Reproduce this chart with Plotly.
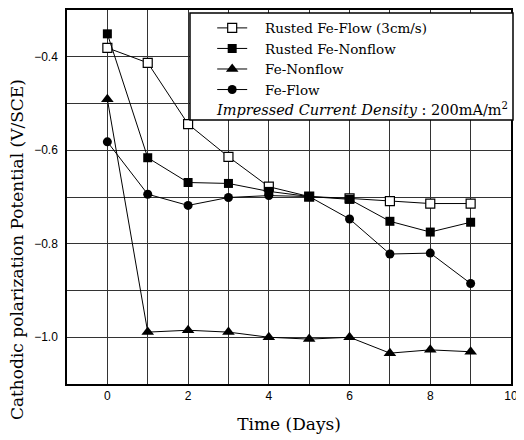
import plotly.graph_objects as go

days = [0, 1, 2, 3, 4, 5, 6, 7, 8, 9]
rusted_flow = [-0.381, -0.413, -0.544, -0.614, -0.678, -0.699, -0.703, -0.709, -0.714, -0.714]
rusted_nonflow = [-0.351, -0.616, -0.669, -0.671, -0.688, -0.699, -0.705, -0.752, -0.775, -0.754]
fe_nonflow = [-0.491, -0.989, -0.985, -0.989, -1.000, -1.004, -1.000, -1.034, -1.027, -1.031]
fe_flow = [-0.582, -0.694, -0.718, -0.701, -0.697, -0.699, -0.747, -0.822, -0.820, -0.885]

names = ["Rusted Fe-Flow (3cm/s)", "Rusted Fe-Nonflow", "Fe-Nonflow", "Fe-Flow"]
series = [rusted_flow, rusted_nonflow, fe_nonflow, fe_flow]
symbols = ["square-open", "square", "triangle-up", "circle"]
sizes = [9, 9, 11, 9]

serif = "DejaVu Serif"
sans = "Liberation Sans"

fig = go.Figure()
for name, vals, sym, sz in zip(names, series, symbols, sizes):
    marker = dict(symbol=sym, size=sz, color="black")
    if sym == "square-open":
        marker = dict(symbol="square", size=sz, color="white", line=dict(color="black", width=1.2))
    fig.add_trace(go.Scatter(
        x=days, y=vals, mode="lines+markers", name="\u00a0\u00a0\u00a0" + name,
        line=dict(color="black", width=1), marker=marker))

axis_common = dict(
    showline=True, linecolor="black", linewidth=1.5, mirror=True,
    showgrid=True, gridcolor="#333333", gridwidth=1,
    zeroline=False, ticks="", tickfont=dict(family=sans, size=12, color="black"),
)

fig.update_xaxes(range=[-1, 10], tick0=0, dtick=2,
                 minor=dict(dtick=1, showgrid=True, gridcolor="#333333", gridwidth=1),
                 title=dict(text="Time (Days)", font=dict(family=serif, size=17, color="black"), standoff=16),
                 **axis_common)
fig.update_yaxes(range=[-1.1, -0.3], tick0=-0.4, dtick=0.2, tickformat=".1f",
                 ticklabelstandoff=5,
                 minor=dict(dtick=0.1, showgrid=True, gridcolor="#333333", gridwidth=1),
                 **axis_common)

fig.add_shape(type="rect", xref="paper", yref="paper",
              x0=0.277, x1=1.0045, y0=0.7056, y1=0.992,
              fillcolor="white", line=dict(color="black", width=1.5), layer="above")

fig.add_annotation(text="<i>Impressed Current Density</i> : 200mA/m<sup>2</sup>",
                   xref="paper", yref="paper", x=0.331, y=0.735, xanchor="left", yanchor="middle",
                   showarrow=False, font=dict(family=serif, size=14.5, color="black"))

fig.add_annotation(text="Cathodic polarization Potential (V/SCE)",
                   xref="paper", yref="paper", x=-0.1126, y=0.358, textangle=-90,
                   xanchor="center", yanchor="middle", showarrow=False,
                   font=dict(family=serif, size=17, color="black"))

# the page body adds an 8px offset; size the figure so the plot area lands where the reference has it
fig.update_layout(
    width=516, height=432,
    margin=dict(l=59, r=13, t=0, b=56),
    paper_bgcolor="white", plot_bgcolor="white",
    showlegend=True,
    legend=dict(x=0.327, y=0.993, xanchor="left", yanchor="top",
                bgcolor="rgba(0,0,0,0)", borderwidth=0,
                font=dict(family=serif, size=13.5, color="black"),
                tracegroupgap=0, itemwidth=30),
)

fig.write_html("out.html")
